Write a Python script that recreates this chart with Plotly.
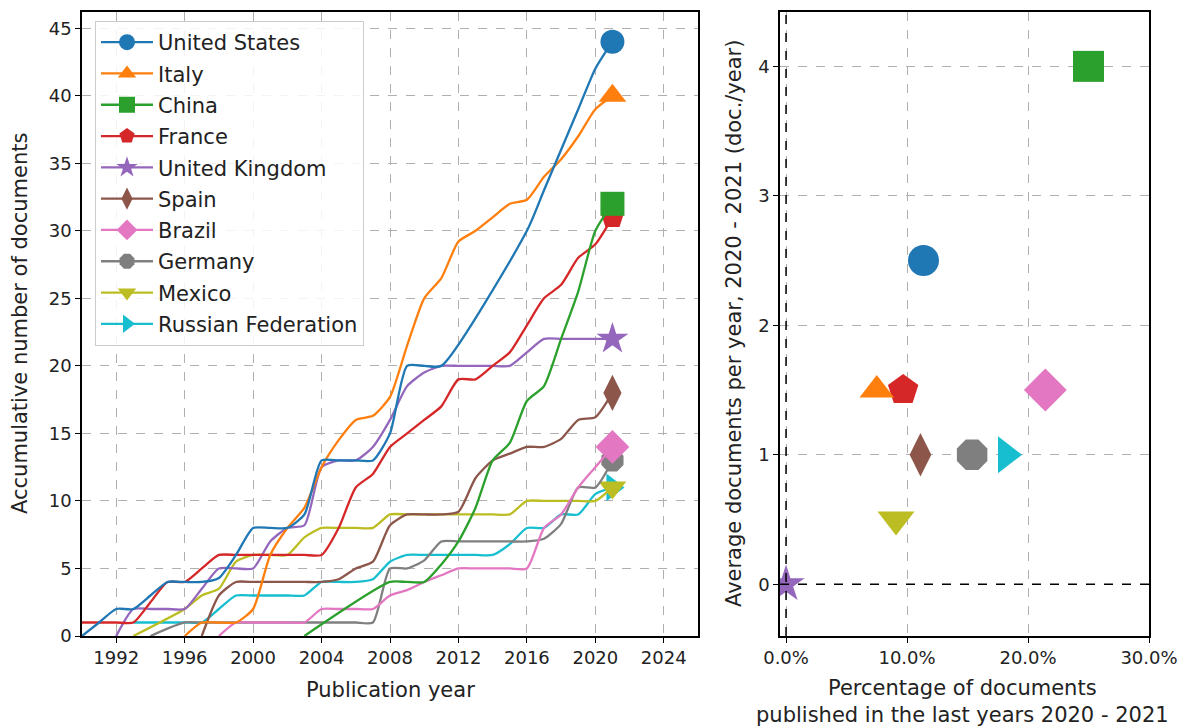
import plotly.graph_objects as go

N = None
YEARS = list(range(1990, 2022))
COUNTRIES = ["United States", "Italy", "China", "France", "United Kingdom",
             "Spain", "Brazil", "Germany", "Mexico", "Russian Federation"]
COLORS = ["#1f77b4", "#ff7f0e", "#2ca02c", "#d62728", "#9467bd",
          "#8c564b", "#e377c2", "#7f7f7f", "#bcbd22", "#17becf"]
SYMBOLS = ["circle", "triangle-up", "square", "pentagon", "star",
           "diamond-tall", "diamond", "octagon", "triangle-down", "triangle-right"]

# accumulative number of documents per year (1990 ... 2021), None = no point
us = [0, 1, 2, 2, 3, 4, 4, 4, 4.3, 6, 8, 8, 8, 9, 13, 13, 13, 13, 15, 20, 20, 20,
      N, N, N, N, 30, 33, 36, 39, 42, 44]
italy = [N] * 6 + [0, 1, 1, 1, 2, 6, 8, 9.5, 12.5, 14.5, 16, 16.3, 17.7, 21.5, 25,
                   26.5, 29.2, 30, 31, 32, 32.3, 34, 35.3, 37, 39, 40]
china = [N] * 13 + [0, N, N, N, N, 4, 4, 4, 5.3, 7, 9.5, 13, 14.3, 17.4, 18.5, 22,
                    25.5, 30, 32]
france = [1, 1, 1, 1, 2.5, 4, 4, 5, 6, 6, 6, 6, 6, 6, 6, 8, 11, 12, 14, 15, 16, 17,
          19, 19, 20, 21, 23, 25, 26, 28, 29, 31]
uk = [N, N, 0, 2, 2, 2, 2, 3.5, 5, 5, 5, 7, 8, 8.2, 12.5, 13, 13, 14, 16, 18.5, 19.5,
      20, 20, 20, 20, 20, 21, 22, 22, 22, 22, 22]
spain = [N] * 7 + [0, 3, 4, 4, 4, 4, 4, 4, 4.2, 5, 5.5, 8.2, 9, 9, 9, 9.2, 11.7, 13,
                   13.5, 14, 14, 14.6, 16, 16.2, 18]
brazil = [N] * 8 + [0, 1, 1, 1, 1, 1, 2, 2, 2, 2, 3, 3.4, 4, 4.5, 5, 5, 5, 5, 5, 8, 9,
                    11, 12.5, 14]
germany = [N] * 4 + [0, N, 1, 1, 1, 1, 1, 1, 1, 1, 1, 1, 1, 1, 5, 5, 5.6, 7, 7, 7, 7,
                     7, 7, 7.2, 8.3, 11, 11, 13]
mexico = [N] * 3 + [0, N, N, 2, 3, 3.5, 5.5, 6, 6, 6, 7.3, 8, 8, 8, 8, 9, 9, 9, 9, 9,
                    9, 9, 9, 10, 10, 10, 10, 10, 11]
russia = [N] * 3 + [1, 1, 1, 1, 1, 2, 3, 3, 3, 3, 3, 4, 4, 4, 4.2, 5.5, 6, 6, 6, 6, 6,
                    6, 6.8, 8, 8, 9, 9, 10.5, 11]
SERIES = [us, italy, china, france, uk, spain, brazil, germany, mexico, russia]

# share of documents published 2020-2021 and average documents per year 2020-2021
pct_recent = [0.1136, 0.075, 0.25, 0.0968, 0.0, 0.1111, 0.2143, 0.1538, 0.0909, 0.1818]
avg_recent = [2.5, 1.5, 4.0, 1.5, 0.0, 1.0, 1.5, 1.0, 0.5, 1.0]

FONT = "DejaVu Sans"
END_SIZE = [24, 24, 24, 24, 24, 26, 26, 24, 24, 24]
RIGHT_SIZE = [31, 30, 31, 32, 28, 31, 33, 33, 32, 32]

# page body has an 8px margin: convert screen pixels to paper fractions
OFF = 8
W, H = 1185 - OFF, 727 - OFF


def px(sx):
    return (sx - OFF) / W


def py(sy):
    return 1 - (sy - OFF) / H


fig = go.Figure()

order = list(range(len(COUNTRIES)))[::-1]
for i in order:
    ys = SERIES[i]
    fig.add_trace(go.Scatter(
        x=YEARS, y=ys, mode="lines", connectgaps=True,
        line=dict(color=COLORS[i], width=2.3, shape="spline", smoothing=0.6),
        showlegend=False, hoverinfo="skip", xaxis="x", yaxis="y"))
    fig.add_trace(go.Scatter(
        x=[YEARS[-1]], y=[ys[-1]], mode="markers",
        marker=dict(symbol=SYMBOLS[i], size=END_SIZE[i], color=COLORS[i]),
        showlegend=False, xaxis="x", yaxis="y"))

for i in range(len(COUNTRIES)):
    fig.add_trace(go.Scatter(
        x=[None], y=[None], mode="lines+markers", name=COUNTRIES[i],
        legendrank=i + 1, legendgroup=COUNTRIES[i],
        line=dict(color=COLORS[i], width=2.3),
        marker=dict(symbol=SYMBOLS[i], size=16, color=COLORS[i]),
        xaxis="x", yaxis="y"))

for i in order:
    fig.add_trace(go.Scatter(
        x=[pct_recent[i]], y=[avg_recent[i]], mode="markers",
        marker=dict(symbol=SYMBOLS[i], size=RIGHT_SIZE[i], color=COLORS[i]),
        showlegend=False, xaxis="x2", yaxis="y2"))

left_dom = [px(82), px(698)]
right_dom = [px(780), px(1149)]
y_dom = [py(636), py(12)]

axis_common = dict(
    showgrid=True, gridcolor="#b0b0b0", griddash="dash", gridwidth=1,
    showline=True, mirror=True, linecolor="black", linewidth=1.5,
    ticks="outside", ticklen=5, tickwidth=1.2, tickcolor="black",
    zeroline=False, automargin=False,
    tickfont=dict(family=FONT, size=18, color="#222"),
)

fig.update_layout(
    width=W, height=H,
    margin=dict(l=0, r=0, t=0, b=0),
    paper_bgcolor="white", plot_bgcolor="white",
    font=dict(family=FONT, color="#222"),
    xaxis=dict(domain=left_dom, range=[1990, 2026],
               tickvals=list(range(1992, 2025, 4)), anchor="y", **axis_common),
    yaxis=dict(domain=y_dom, range=[0, 46.2], tickvals=list(range(0, 46, 5)),
               anchor="x", **axis_common),
    xaxis2=dict(domain=right_dom, range=[-0.005, 0.30], tickvals=[0, 0.1, 0.2, 0.3],
                tickformat=".1%", anchor="y2", **axis_common),
    yaxis2=dict(domain=y_dom, range=[-0.4, 4.42], tickvals=[0, 1, 2, 3, 4],
                anchor="x2", **axis_common),
    legend=dict(x=px(95), y=py(21), xanchor="left", yanchor="top",
                bgcolor="rgba(255,255,255,0.85)", bordercolor="#cccccc",
                borderwidth=1, font=dict(family=FONT, size=21, color="#222"),
                tracegroupgap=1, traceorder="grouped", itemwidth=52),
    showlegend=True,
)

# dashed reference lines at zero on the right panel
fig.add_shape(type="line", xref="x2", yref="y2 domain", x0=0, x1=0, y0=0, y1=1,
              line=dict(color="black", width=1.5, dash="dash"))
fig.add_shape(type="line", xref="x2 domain", yref="y2", x0=0, x1=1, y0=0, y1=0,
              line=dict(color="black", width=1.5, dash="dash"))

title_font = dict(family=FONT, size=21, color="#222")
mid_y = py(324)
fig.add_annotation(text="Publication year", xref="paper", yref="paper",
                   x=px(390), y=py(690), showarrow=False, font=title_font,
                   xanchor="center", yanchor="middle")
fig.add_annotation(text="Accumulative number of documents", xref="paper", yref="paper",
                   x=px(20), y=mid_y, showarrow=False, font=title_font, textangle=-90,
                   xanchor="center", yanchor="middle")
fig.add_annotation(text="Percentage of documents<br>published in the last years 2020 - 2021",
                   xref="paper", yref="paper", x=px(962), y=py(701), showarrow=False,
                   font=title_font, xanchor="center", yanchor="middle")
fig.add_annotation(text="Average documents per year, 2020 - 2021 (doc./year)",
                   xref="paper", yref="paper", x=px(734), y=mid_y, showarrow=False,
                   font=title_font, textangle=-90, xanchor="center", yanchor="middle")

fig.write_html("out.html")
